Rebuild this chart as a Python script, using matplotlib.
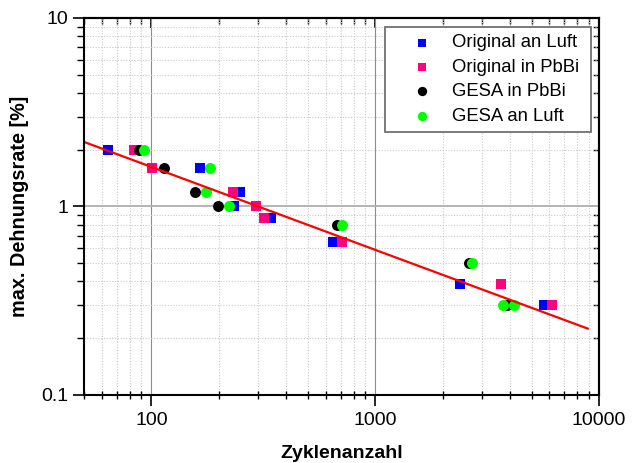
import numpy as np
import matplotlib
matplotlib.use("Agg")
import matplotlib.pyplot as plt
from matplotlib.ticker import LogLocator, NullFormatter, FixedLocator, FixedFormatter

plt.rcParams['font.family'] = ['Liberation Sans', 'DejaVu Sans']

# Fatigue data: cycles to failure vs. maximum strain rate
orig_luft_x = [64, 165, 249, 233, 343, 650, 2400, 5650]
orig_luft_y = [2.0, 1.6, 1.2, 1.0, 0.87, 0.65, 0.39, 0.30]

orig_pbbi_x = [84, 101, 232, 293, 319, 708, 3630, 6150]
orig_pbbi_y = [2.0, 1.6, 1.2, 1.0, 0.87, 0.65, 0.39, 0.30]

gesa_pbbi_x = [88, 114, 156, 199, 673, 2620, 3880]
gesa_pbbi_y = [2.0, 1.6, 1.2, 1.0, 0.8, 0.5, 0.3]

gesa_luft_x = [93, 183, 175, 222, 708, 2720, 3720, 4160]
gesa_luft_y = [2.0, 1.6, 1.2, 1.0, 0.8, 0.5, 0.3, 0.3]

# Power-law fit  y = a * N^b
fit_a = 12.3
fit_b = -0.44
fit_range = (50, 8900)

x_ticks = [100, 1000, 10000]
x_tick_labels = ["100", "1000", "10000"]
y_ticks = [0.1, 1, 10]
y_tick_labels = ["0.1", "1", "10"]

fig = plt.figure(figsize=(6.37, 4.63), dpi=100)
ax = fig.add_axes([0.1319, 0.1469, 0.8085, 0.8143])
ax.set_xscale('log')
ax.set_yscale('log')
ax.set_xlim(50, 10000)
ax.set_ylim(0.1, 10)

# grid
ax.xaxis.set_minor_locator(LogLocator(base=10, subs=np.arange(2, 10)))
ax.yaxis.set_minor_locator(LogLocator(base=10, subs=np.arange(2, 10)))
ax.xaxis.set_minor_formatter(NullFormatter())
ax.yaxis.set_minor_formatter(NullFormatter())
ax.grid(which='minor', color='#c8c8c8', linestyle=(0, (1, 1.5)), linewidth=0.8, zorder=0)
ax.grid(which='major', axis='x', color='#8c8c8c', linestyle='-', linewidth=0.8, zorder=0)
ax.grid(which='major', axis='y', color='#b4b4b4', linestyle='-', linewidth=1.4, zorder=0)
ax.set_axisbelow(True)

ms = 50
ax.scatter(orig_luft_x, orig_luft_y, s=ms, marker='s', color='#0000ff', linewidths=0,
           label='Original an Luft', zorder=3)
ax.scatter(orig_pbbi_x, orig_pbbi_y, s=ms, marker='s', color='#ff0080', linewidths=0,
           label='Original in PbBi', zorder=4)
ax.scatter(gesa_pbbi_x, gesa_pbbi_y, s=ms * 1.25, marker='o', color='#000000', linewidths=0,
           label='GESA in PbBi', zorder=5)
ax.scatter(gesa_luft_x, gesa_luft_y, s=ms * 1.25, marker='o', color='#00ff00', linewidths=0,
           label='GESA an Luft', zorder=6)

fx = np.logspace(np.log10(fit_range[0]), np.log10(fit_range[1]), 100)
ax.plot(fx, fit_a * fx ** fit_b, color='#ff0000', linewidth=1.6, zorder=7)

# ticks
ax.xaxis.set_major_locator(FixedLocator(x_ticks))
ax.xaxis.set_major_formatter(FixedFormatter(x_tick_labels))
ax.yaxis.set_major_locator(FixedLocator(y_ticks))
ax.yaxis.set_major_formatter(FixedFormatter(y_tick_labels))
ax.tick_params(axis='both', which='major', direction='out', length=8, width=1.2,
               labelsize=14, color='black')
ax.tick_params(axis='x', which='major', pad=4)
ax.tick_params(axis='y', which='major', pad=3)
ax.tick_params(axis='x', which='minor', direction='inout', length=6, width=1.0)
ax.tick_params(axis='y', which='minor', direction='out', length=5, width=1.0)

for sp in ax.spines.values():
    sp.set_linewidth(1.5)
    sp.set_zorder(8)

# inward ticks on top and right
top = ax.secondary_xaxis('top')
top.xaxis.set_major_locator(FixedLocator(x_ticks))
top.xaxis.set_minor_locator(LogLocator(base=10, subs=np.arange(2, 10)))
top.tick_params(which='major', direction='in', length=7, width=1.2, labeltop=False)
top.tick_params(which='minor', direction='in', length=4, width=1.0, labeltop=False)
top.xaxis.set_minor_formatter(NullFormatter())
top.spines['top'].set_linewidth(1.5)

right = ax.secondary_yaxis('right')
right.yaxis.set_major_locator(FixedLocator(y_ticks))
right.yaxis.set_minor_locator(LogLocator(base=10, subs=np.arange(2, 10)))
right.tick_params(which='major', direction='in', length=7, width=1.2, labelright=False)
right.tick_params(which='minor', direction='in', length=4, width=1.0, labelright=False)
right.yaxis.set_minor_formatter(NullFormatter())
right.spines['right'].set_linewidth(1.5)

ax.set_xlabel('Zyklenanzahl', fontsize=14, fontweight='bold', labelpad=12)
ax.set_ylabel('max. Dehnungsrate [%]', fontsize=14.3, fontweight='bold', labelpad=9)

leg = ax.legend(loc='upper left', bbox_to_anchor=(0.584, 0.700, 0.400, 0.276),
                mode='expand', borderaxespad=0,
                fontsize=13.3, frameon=True, fancybox=False, framealpha=1,
                edgecolor='#707070', handlelength=3.25, handletextpad=0.0,
                labelspacing=0.4, markerscale=0.85, borderpad=0.4)
leg.get_frame().set_linewidth(1.3)
leg.set_zorder(10)

fig.savefig('out.png', dpi=100)
